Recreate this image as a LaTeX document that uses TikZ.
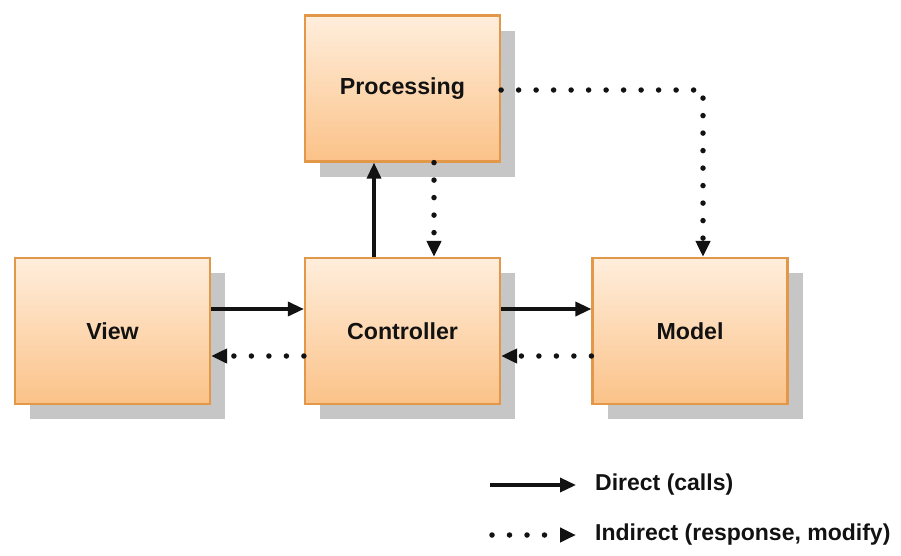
\documentclass[tikz,border=0pt]{standalone}
\usepackage{fontspec}
\setmainfont{Liberation Sans}
\usetikzlibrary{arrows.meta,shadows}

\definecolor{boxtop}{RGB}{255,238,220}
\definecolor{boxbottom}{RGB}{251,194,136}
\definecolor{boxborder}{RGB}{226,152,72}
\definecolor{shadowgray}{RGB}{198,198,198}
\definecolor{inkdark}{RGB}{18,18,18}

\tikzset{
  block/.style={
    rectangle, minimum width=195pt, minimum height=146pt,
    top color=boxtop, bottom color=boxbottom,
    draw=boxborder, line width=2.2pt,
    drop shadow={shadow xshift=15pt, shadow yshift=-15pt,
                 fill=shadowgray, opacity=1},
    font=\bfseries\fontsize{23.2}{27}\selectfont, text=inkdark
  },
  tip/.style={-{Triangle[length=16pt,width=14pt]}},
  direct/.style={tip, draw=inkdark, line width=3.4pt},
  indirect/.style={tip, draw=inkdark, line width=5.5pt,
                   line cap=round, dash pattern=on 0pt off 17.5pt},
  legendtext/.style={anchor=west, inner sep=0pt,
                     font=\bfseries\fontsize{23}{27}\selectfont, text=inkdark}
}

\begin{document}
\begin{tikzpicture}[x=1pt,y=1pt]
  \useasboundingbox[fill=white] (0,0) rectangle (901,-555);

  % the four components
  \node[block] (proc) at (402.5,-88.5) {Processing};
  \node[block] (view) at (112.5,-331) {View};
  \node[block] (ctrl) at (402.5,-331) {Controller};
  \node[block] (model) at (690,-331) {Model};

  % direct calls
  \draw[direct] ([yshift=22pt]view.east) -- ([yshift=22pt]ctrl.west);
  \draw[direct] ([yshift=22pt]ctrl.east) -- ([yshift=22pt]model.west);
  \draw[direct] ([xshift=-28.5pt]ctrl.north) -- ([xshift=-28.5pt]proc.south);

  % indirect responses / modifications
  \draw[indirect] ([yshift=-25pt]ctrl.west) -- ([yshift=-25pt]view.east);
  \draw[indirect] ([yshift=-25pt]model.west) -- ([yshift=-25pt]ctrl.east);
  \draw[indirect] ([xshift=31.5pt]proc.south) -- ([xshift=31.5pt]ctrl.north);
  \draw[indirect] ([yshift=-1.5pt]proc.east) -| ([xshift=13pt]model.north);

  % legend
  \coordinate (la) at (490,-485);
  \coordinate (lb) at (576,-485);
  \coordinate (lc) at (492,-535);
  \coordinate (ld) at (576,-535);
  \draw[direct] (la) -- (lb);
  \node[legendtext] (ldirect) at ([xshift=19pt]lb) {Direct (calls)};
  \draw[indirect] (lc) -- (ld);
  \node[legendtext] (lindirect) at ([xshift=19pt]ld) {Indirect (response, modify)};
\end{tikzpicture}
\end{document}
